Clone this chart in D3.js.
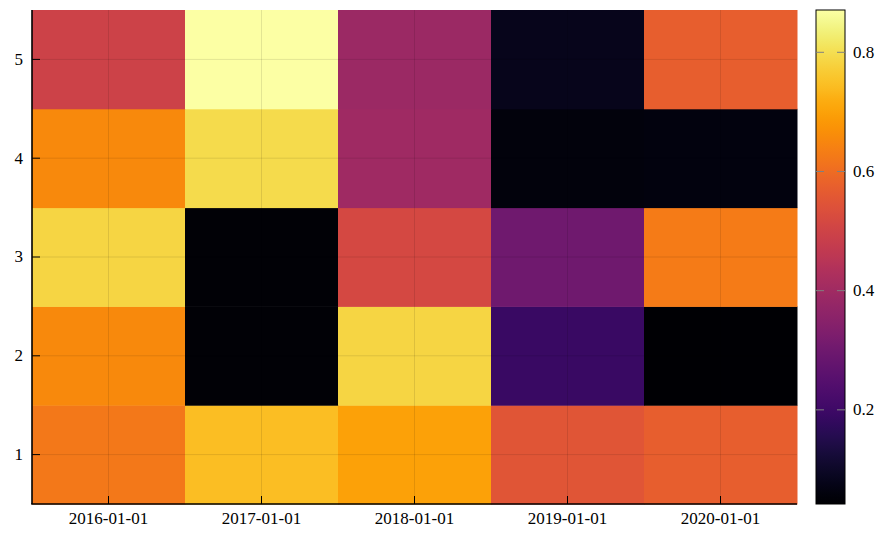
<!DOCTYPE html>
<html>
<head>
<meta charset="utf-8">
<script src="https://cdn.jsdelivr.net/npm/d3@7"></script>
<style>
  body { margin: 0; background: #fff; }
  text { font-family: "Liberation Serif", serif; font-size: 17px; fill: #000; }
</style>
</head>
<body>
<div id="chart"></div>
<script>
// x categories (columns) and y categories (rows)
const dates = ['2016-01-01', '2017-01-01', '2018-01-01', '2019-01-01', '2020-01-01'];
const rows = [1, 2, 3, 4, 5];

// values per row, ordered by dates
const row1 = [0.622, 0.747, 0.697, 0.548, 0.573];
const row2 = [0.655, 0.050, 0.784, 0.191, 0.042];
const row3 = [0.784, 0.050, 0.515, 0.299, 0.631];
const row4 = [0.655, 0.796, 0.398, 0.059, 0.062];
const row5 = [0.498, 0.871, 0.390, 0.083, 0.573];
const values = [row1, row2, row3, row4, row5];

const colorTicks = [0.2, 0.4, 0.6, 0.8];

const W = 892, H = 540;
const plot = {left: 32, top: 10, right: 797, bottom: 504};
const cbar = {left: 816, right: 845};

const cells = [];
values.forEach((r, i) => r.forEach((v, j) => cells.push({date: dates[j], row: rows[i], v})));

const svg = d3.select('#chart').append('svg')
  .attr('width', W).attr('height', H);

const x = d3.scaleBand().domain(dates).range([plot.left, plot.right]);
const y = d3.scaleBand().domain(rows).range([plot.bottom, plot.top]);
const extent = d3.extent(cells, d => d.v);
const color = d3.scaleSequential(d3.interpolateInferno).domain(extent);

// cells
svg.append('g').selectAll('rect').data(cells).join('rect')
  .attr('x', d => x(d.date))
  .attr('y', d => y(d.row))
  .attr('width', x.bandwidth() + 0.5)
  .attr('height', y.bandwidth() + 0.5)
  .attr('fill', d => color(d.v));

// grid lines at cell centres
const grid = svg.append('g').attr('stroke', '#000').attr('stroke-opacity', 0.1).attr('stroke-width', 1);
dates.forEach(d => {
  const cx = x(d) + x.bandwidth() / 2;
  grid.append('line').attr('x1', cx).attr('x2', cx).attr('y1', plot.top).attr('y2', plot.bottom);
});
rows.forEach(r => {
  const cy = y(r) + y.bandwidth() / 2;
  grid.append('line').attr('x1', plot.left).attr('x2', plot.right).attr('y1', cy).attr('y2', cy);
});

// bottom axis
const xAxis = svg.append('g')
  .attr('transform', `translate(0,${plot.bottom})`)
  .call(d3.axisBottom(x).tickSize(-8).tickPadding(8));
xAxis.select('.domain').attr('stroke-width', 1.6).attr('d', `M${plot.left - 0.8},0H${plot.right}`);
xAxis.selectAll('text').style('font-family', '"Liberation Serif", serif').style('font-size', '17px');

// left axis
const yAxis = svg.append('g')
  .attr('transform', `translate(${plot.left},0)`)
  .call(d3.axisLeft(y).tickSize(-8).tickPadding(9));
yAxis.select('.domain').attr('stroke-width', 1.6).attr('d', `M0,${plot.top}V${plot.bottom}`);
yAxis.selectAll('text').style('font-family', '"Liberation Serif", serif').style('font-size', '17px');

// colorbar
const cy = d3.scaleLinear().domain(extent).range([plot.bottom, plot.top]);
const grad = svg.append('defs').append('linearGradient')
  .attr('id', 'cb').attr('x1', 0).attr('y1', 1).attr('x2', 0).attr('y2', 0);
d3.range(0, 1.0001, 0.02).forEach(t => {
  grad.append('stop').attr('offset', t).attr('stop-color', d3.interpolateInferno(t));
});
svg.append('rect')
  .attr('x', cbar.left).attr('y', plot.top)
  .attr('width', cbar.right - cbar.left).attr('height', plot.bottom - plot.top)
  .attr('fill', 'url(#cb)').attr('stroke', '#000').attr('stroke-width', 1);

const cticks = svg.append('g');
colorTicks.forEach(t => {
  const ty = cy(t);
  cticks.append('line').attr('x1', cbar.left).attr('x2', cbar.left + 8).attr('y1', ty).attr('y2', ty)
    .attr('stroke', '#808080').attr('stroke-width', 1);
  cticks.append('line').attr('x1', cbar.right - 8).attr('x2', cbar.right).attr('y1', ty).attr('y2', ty)
    .attr('stroke', '#808080').attr('stroke-width', 1);
  cticks.append('text').attr('x', cbar.right + 8).attr('y', ty).attr('dy', '0.32em')
    .text(d3.format('.1f')(t));
});
</script>
</body>
</html>
